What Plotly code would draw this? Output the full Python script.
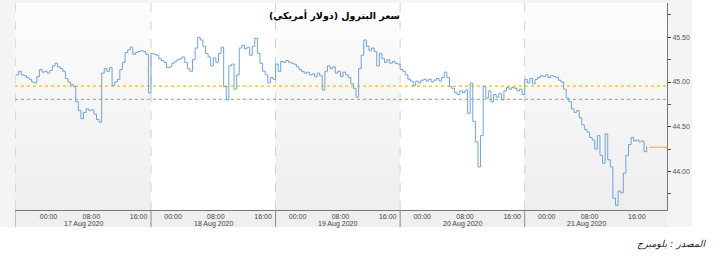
import plotly.graph_objects as go

# ---------------- data ----------------
title_text = "سعر البترول (دولار أمريكي)"
source_text = "المصدر : بلومبرج"
day_labels = ["17 Aug 2020", "18 Aug 2020", "19 Aug 2020", "20 Aug 2020", "21 Aug 2020"]
time_labels = ["00:00", "08:00", "16:00"]
time_label_offsets = [4.25, 12.5, 21.6]      # session hours after the 18:00 session open
session_starts = [0, 24, 48, 72, 96]          # session hours of each day's open
first_bar_hour = -2.0                          # 17 Aug data begins a little before its open
bar_step = 0.5                                 # half-hour bars

price_17 = [45.08, 45.12, 45.08, 45.07, 45.05, 45.03, 45.00, 44.99, 45.06, 45.14,
            45.11, 45.12, 45.10, 45.13, 45.18, 45.21, 45.17, 45.15, 45.12, 45.04,
            45.00, 44.97, 44.95, 44.78, 44.68, 44.59, 44.66, 44.70, 44.68, 44.69,
            44.64, 44.58, 44.55, 45.10, 45.15, 45.12, 45.16, 44.96, 45.00, 45.03,
            45.14, 45.22, 45.33, 45.36, 45.39, 45.31, 45.33, 45.34, 45.35, 45.34,
            45.31, 44.88]
price_18 = [45.32, 45.31, 45.30, 45.26, 45.24, 45.22, 45.16, 45.17, 45.21, 45.23,
            45.25, 45.26, 45.28, 45.22, 45.15, 45.12, 45.25, 45.38, 45.50, 45.47,
            45.40, 45.32, 45.28, 45.18, 45.27, 45.22, 45.32, 45.39, 44.95, 44.80,
            45.18, 45.20, 44.92, 45.08, 45.38, 45.41, 45.37, 45.39, 45.30, 45.40,
            45.49, 45.32, 45.21, 45.12, 45.08, 44.99, 45.05, 45.03]
price_19 = [45.20, 45.12, 45.23, 45.22, 45.24, 45.22, 45.21, 45.20, 45.17, 45.14,
            45.12, 45.10, 45.11, 45.08, 45.09, 45.06, 45.10, 45.07, 44.91, 45.12,
            45.18, 45.15, 45.17, 45.10, 45.12, 45.06, 45.11, 45.08, 45.05, 44.98,
            44.93, 44.83, 45.15, 45.30, 45.47, 45.40, 45.35, 45.38, 45.34, 45.18,
            45.32, 45.26, 45.22, 45.25, 45.21, 45.23, 45.21, 45.20]
price_20 = [45.14, 45.12, 45.08, 45.03, 45.01, 44.96, 45.01, 44.99, 45.02, 45.03,
            45.01, 45.03, 45.00, 45.02, 45.04, 45.01, 45.05, 45.11, 45.05, 44.95,
            44.93, 44.88, 44.86, 44.90, 44.88, 44.91, 44.65, 44.99, 44.56, 44.33,
            44.05, 44.40, 44.95, 44.82, 44.90, 44.78, 44.86, 44.83, 44.87, 44.80,
            44.90, 44.94, 44.92, 44.94, 44.93, 44.90, 44.92, 44.86]
price_21 = [45.03, 44.99, 45.04, 44.98, 45.03, 45.05, 45.07, 45.06, 45.08, 45.05,
            45.07, 45.06, 45.05, 45.02, 45.00, 44.92, 44.82, 44.78, 44.70, 44.66,
            44.68, 44.60, 44.52, 44.47, 44.44, 44.38, 44.35, 44.25, 44.40, 44.18,
            44.09, 44.42, 44.13, 44.05, 43.70, 43.62, 43.78, 43.76, 43.98, 44.18,
            44.30, 44.38, 44.34, 44.35, 44.33, 44.34, 44.22, 44.28]
last_price = 44.27
ref_line_yellow = 44.955
ref_line_orange = 44.806
y_major_ticks = [44.00, 44.50, 45.00, 45.50]
y_minor_ticks = [43.75, 44.25, 44.75, 45.25, 45.75]

# ---------------- assemble ----------------
X_MIN, X_MAX = -2.204, 123.42
Y_MIN, Y_MAX = 43.568, 45.884

day_prices = [price_17, price_18, price_19, price_20, price_21]
hours, prices = [], []
for d, vals in enumerate(day_prices):
    start = first_bar_hour if d == 0 else session_starts[d]
    for i, v in enumerate(vals):
        hours.append(start + i * bar_step)
        prices.append(v)
last_hour = hours[-1] + bar_step

fig = go.Figure()

# day bands
for d in range(len(session_starts)):
    x0 = X_MIN if d == 0 else session_starts[d]
    x1 = session_starts[d + 1] if d + 1 < len(session_starts) else X_MAX
    kw = dict(x=[x0, x1, x1, x0, x0], y=[Y_MIN, Y_MIN, Y_MAX, Y_MAX, Y_MIN],
              fill="toself", mode="none", hoverinfo="skip", showlegend=False)
    if d % 2 == 0:
        fig.add_trace(go.Scatter(**kw, fillgradient=dict(
            type="vertical", colorscale=[[0, "#eeeeee"], [1, "#fdfdfd"]])))
    else:
        fig.add_trace(go.Scatter(**kw, fillcolor="#ffffff"))

# dashed day separators
for d in range(len(session_starts)):
    xs = X_MIN + 0.05 if d == 0 else session_starts[d]
    fig.add_trace(go.Scatter(x=[xs, xs], y=[Y_MIN, Y_MAX], mode="lines",
                             line=dict(color="#d2d2d2", width=1, dash="dash"),
                             hoverinfo="skip", showlegend=False))

# reference lines
fig.add_trace(go.Scatter(x=[X_MIN, X_MAX], y=[ref_line_yellow] * 2, mode="lines",
                         line=dict(color="#f0bf1a", width=1.2, dash="dot"),
                         hoverinfo="skip", showlegend=False))
fig.add_trace(go.Scatter(x=[X_MIN, X_MAX], y=[ref_line_orange] * 2, mode="lines",
                         line=dict(color="#f29a55", width=1.2, dash="dot"),
                         hoverinfo="skip", showlegend=False))

# price series
fig.add_trace(go.Scatter(x=hours, y=prices, mode="lines", line_shape="hv",
                         line=dict(color="#6fa3da", width=1), showlegend=False))

# last price line
fig.add_trace(go.Scatter(x=[last_hour, X_MAX], y=[last_price] * 2, mode="lines",
                         line=dict(color="#e6c229", width=1.2),
                         hoverinfo="skip", showlegend=False))

# ---------------- layout ----------------
plot_l, plot_r, plot_t, plot_b = 15, 667, 3, 210
pw, ph = plot_r - plot_l, plot_b - plot_t
def px_x(p): return (p - plot_l) / pw
def px_y(p): return 1 - (p - plot_t) / ph

shapes = [
    dict(type="rect", xref="paper", yref="paper", x0=px_x(0), x1=px_x(692),
         y0=px_y(227), y1=px_y(0), fillcolor="#f4f4f4", line=dict(width=0), layer="below"),
    dict(type="rect", xref="paper", yref="paper", x0=0, x1=1,
         y0=px_y(227), y1=0, fillcolor="#efefef", line=dict(width=0), layer="below"),
]
for d in range(len(session_starts)):
    xs = X_MIN if d == 0 else session_starts[d]
    shapes.append(dict(type="line", xref="x", yref="paper", x0=xs, x1=xs,
                       y0=px_y(227), y1=0, line=dict(color="#8a8a8a", width=1)))

tickvals, ticktext = [], []
for s in session_starts:
    for off, lab in zip(time_label_offsets, time_labels):
        tickvals.append(s + off)
        ticktext.append(lab)

annotations = [
    dict(text=f"<b>{title_text}</b>", xref="paper", yref="paper", x=px_x(334), y=px_y(15),
         xanchor="center", yanchor="middle", showarrow=False,
         font=dict(family="DejaVu Sans", size=9.5, color="#000000")),
    dict(text=source_text, xref="paper", yref="paper", x=px_x(708), y=px_y(244),
         xanchor="right", yanchor="middle", showarrow=False,
         font=dict(family="DejaVu Sans", size=9.5, color="#222222", style="italic")),
]
for d, lab in enumerate(day_labels):
    a = X_MIN if d == 0 else session_starts[d]
    b = session_starts[d + 1] if d + 1 < len(session_starts) else last_hour
    annotations.append(dict(text=lab, xref="x", yref="paper", x=(a + b) / 2, y=px_y(223.5),
                            xanchor="center", yanchor="middle", showarrow=False,
                            font=dict(family="Liberation Sans", size=7, color="#444444")))

fig.update_layout(
    width=720, height=259,
    margin=dict(l=plot_l, r=720 - plot_r, t=plot_t, b=259 - plot_b),
    paper_bgcolor="#ffffff", plot_bgcolor="#ffffff",
    shapes=shapes, annotations=annotations, showlegend=False,
    xaxis=dict(range=[X_MIN, X_MAX], tickvals=tickvals, ticktext=ticktext,
               ticks="", showgrid=False, zeroline=False, showline=True,
               linecolor="#777777", linewidth=1,
               tickfont=dict(family="Liberation Sans", size=7, color="#444444")),
    yaxis=dict(range=[Y_MIN, Y_MAX], side="right", tickvals=y_major_ticks,
               ticktext=[f"{v:.2f}" for v in y_major_ticks],
               ticks="outside", ticklen=3, tickcolor="#333333",
               showgrid=False, zeroline=False, showline=True,
               linecolor="#777777", linewidth=1,
               minor=dict(tickvals=y_minor_ticks, ticks="outside", ticklen=3,
                          tickcolor="#555555"),
               tickfont=dict(family="Liberation Sans", size=7, color="#555555")),
)

fig.write_html("out.html")
